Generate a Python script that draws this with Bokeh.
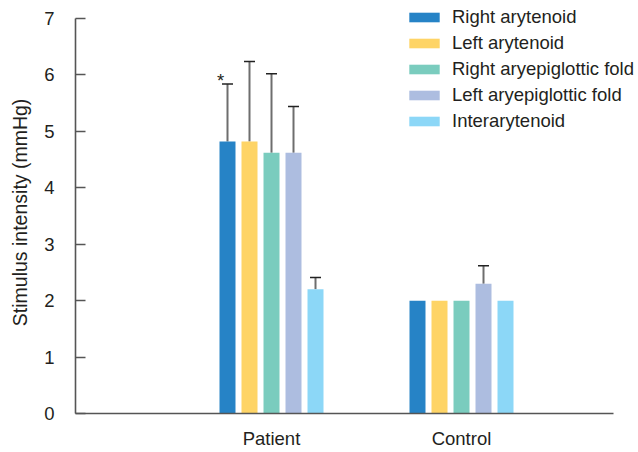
from bokeh.plotting import figure
from bokeh.models import (ColumnDataSource, Whisker, TeeHead, Legend, LegendItem,
                          FixedTicker, Range1d)
from bokeh.core.properties import value
from bokeh.embed import file_html
from bokeh.resources import INLINE

groups = ["Patient", "Control"]
series = ["Right arytenoid", "Left arytenoid", "Right aryepiglottic fold",
          "Left aryepiglottic fold", "Interarytenoid"]
colors = ["#2683C6", "#FED466", "#7ACCBE", "#ADBDE0", "#8CD7F7"]
patient_mean = [4.82, 4.82, 4.62, 4.62, 2.20]
patient_sd = [1.02, 1.42, 1.40, 0.82, 0.21]
control_mean = [2.0, 2.0, 2.0, 2.30, 2.0]
control_sd = [0.0, 0.0, 0.0, 0.32, 0.0]
y_ticks = [0, 1, 2, 3, 4, 5, 6, 7]
significance = "*"
y_title = "Stimulus intensity (mmHg)"

FONT = "Liberation Sans"
FS = "18.5px"
TXT = "#231F20"

group_pos = [1, 2]
offset = 0.1158
bar_w = 0.0842

x0 = -0.0316
px_per_x = 190.0
px_per_y = 395.0 / 7
frame_w = 563
frame_h = 413

p = figure(width=638, height=452, output_backend="svg", toolbar_location=None,
           x_range=Range1d(x0, x0 + frame_w / px_per_x),
           y_range=Range1d(0, frame_h / px_per_y),
           min_border_left=75, min_border_right=0, min_border_top=0,
           min_border_bottom=39, frame_width=frame_w, frame_height=frame_h)
p.outline_line_color = None
p.xgrid.visible = False
p.ygrid.visible = False

means = [patient_mean, control_mean]
sds = [patient_sd, control_sd]
legend_items = []
for si, name in enumerate(series):
    xs = [g + (si - 2) * offset for g in group_pos]
    tops = [means[gi][si] for gi in range(len(groups))]
    src = ColumnDataSource(dict(x=xs, top=tops))
    r = p.vbar(x="x", top="top", width=bar_w, bottom=0, source=src,
               fill_color=colors[si], line_color=None)
    legend_items.append(LegendItem(label=name, renderers=[r]))

# error bars (upper only)
ex, elo, ehi = [], [], []
for gi, g in enumerate(group_pos):
    for si in range(len(series)):
        if sds[gi][si] > 0:
            ex.append(g + (si - 2) * offset)
            elo.append(means[gi][si])
            ehi.append(means[gi][si] + sds[gi][si])
esrc = ColumnDataSource(dict(x=ex, lower=elo, upper=ehi))
w = Whisker(base="x", lower="lower", upper="upper", source=esrc,
            line_color="#6E6E6E", line_width=2,
            upper_head=TeeHead(size=11, line_color="#222222", line_width=1.5),
            lower_head=None)
p.add_layout(w)

# significance marker
p.text(x=[group_pos[0] - 2 * offset], y=[patient_mean[0] + patient_sd[0]],
       text=[significance], x_offset=-7, y_offset=-3, text_align="center",
       text_baseline="alphabetic", text_font=value(FONT), text_font_size=FS,
       text_color=TXT)

# axes
for ax in (p.xaxis[0], p.yaxis[0]):
    ax.axis_line_color = "#555555"
    ax.axis_line_width = 1.6
    ax.major_tick_line_color = "#555555"
    ax.major_tick_line_width = 1.3
    ax.minor_tick_line_color = None
    ax.major_label_text_font = FONT
    ax.major_label_text_font_size = FS
    ax.major_label_text_color = TXT

p.yaxis.bounds = (0, 7)
p.yaxis.ticker = FixedTicker(ticks=y_ticks)
p.yaxis.major_tick_in = 10
p.yaxis.major_tick_out = 0
p.yaxis.major_label_standoff = 21
# two trailing no-break spaces centre the title on the 0-7 axis span
p.yaxis.axis_label = y_title + "\u00a0\u00a0"
p.yaxis.axis_label_text_font = FONT
p.yaxis.axis_label_text_font_size = "19.5px"
p.yaxis.axis_label_text_font_style = "normal"
p.yaxis.axis_label_text_color = TXT
p.yaxis.axis_label_standoff = 10

p.xaxis.bounds = (x0, x0 + 538 / px_per_x)
p.xaxis.ticker = FixedTicker(ticks=group_pos)
p.xaxis.major_label_overrides = {1: groups[0], 2: groups[1]}
p.xaxis.major_tick_in = 0
p.xaxis.major_tick_out = 0
p.xaxis.major_label_standoff = 14

legend = Legend(items=legend_items, location=(330, 281), padding=0, margin=0,
                spacing=4, glyph_width=38, glyph_height=12, label_height=21,
                label_standoff=9, border_line_color=None, background_fill_alpha=0,
                label_text_font=FONT, label_text_font_size=FS,
                label_text_color=TXT)
p.add_layout(legend)

open("out.html", "w").write(file_html(p, INLINE))
